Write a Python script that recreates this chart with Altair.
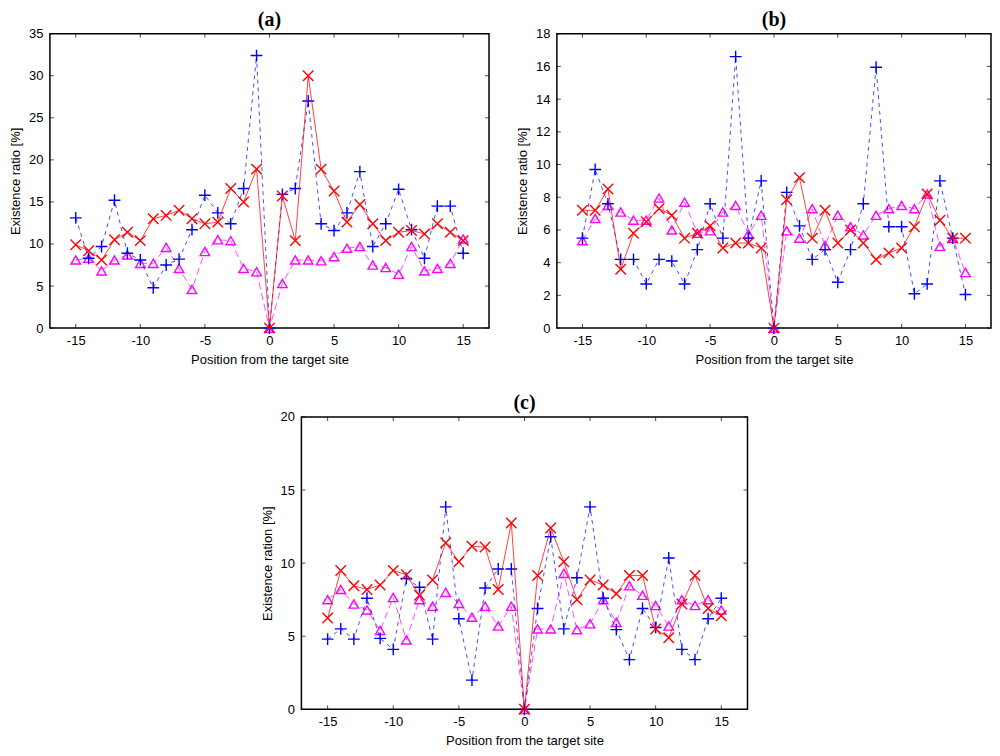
import altair as alt
import pandas as pd

positions = list(range(-15, 16))

# panel (a)
a_red = [9.9, 9.2, 8.1, 10.5, 11.4, 10.4, 13.0, 13.4, 14.0, 13.0, 12.4, 12.6, 16.6, 15.0, 18.9, 0.0,
         15.7, 10.4, 30.0, 18.9, 16.3, 12.6, 14.7, 12.4, 10.4, 11.4, 11.6, 11.2, 12.4, 11.4, 10.4]
a_blue = [13.1, 8.3, 9.7, 15.2, 8.9, 8.1, 4.8, 7.5, 8.2, 11.7, 15.8, 13.7, 12.4, 16.6, 32.4, 0.0,
          15.9, 16.6, 27.0, 12.4, 11.6, 13.7, 18.6, 9.7, 12.4, 16.5, 11.7, 8.3, 14.5, 14.5, 8.9]
a_mag = [8.1, 8.3, 6.8, 8.1, 8.7, 7.7, 7.7, 9.6, 7.1, 4.6, 9.1, 10.5, 10.4, 7.1, 6.7, 0.0,
         5.3, 8.1, 8.1, 8.0, 8.5, 9.5, 9.7, 7.5, 7.2, 6.4, 9.7, 6.8, 7.1, 7.7, 10.6]

# panel (b)
b_red = [7.2, 7.2, 8.5, 3.6, 5.8, 6.5, 7.3, 6.9, 5.5, 5.8, 6.25, 4.9, 5.2, 5.2, 4.9, 0.0,
         7.85, 9.2, 5.5, 7.2, 5.2, 6.0, 5.2, 4.2, 4.6, 4.9, 6.2, 8.2, 6.6, 5.5, 5.5]
b_blue = [5.5, 9.7, 7.6, 4.2, 4.2, 2.7, 4.2, 4.1, 2.7, 4.8, 7.6, 5.5, 16.6, 5.5, 9.0, 0.0,
          8.3, 6.25, 4.2, 4.8, 2.8, 4.8, 7.6, 15.95, 6.2, 6.2, 2.1, 2.7, 9.0, 5.5, 2.05]
b_mag = [5.35, 6.7, 7.5, 7.1, 6.6, 6.6, 7.95, 6.0, 7.7, 5.8, 5.95, 7.1, 7.5, 5.75, 6.9, 0.0,
         5.95, 5.5, 7.3, 5.05, 6.9, 6.2, 5.7, 6.9, 7.3, 7.5, 7.3, 8.2, 5.0, 5.5, 3.4]

# panel (c)
c_red = [6.25, 9.5, 8.45, 8.2, 8.5, 9.5, 9.2, 7.8, 8.85, 11.4, 10.1, 11.15, 11.1, 8.2, 12.75, 0.0,
         9.15, 12.4, 10.1, 7.5, 8.85, 8.5, 7.9, 9.15, 9.15, 5.5, 4.9, 7.2, 9.15, 6.9, 6.4]
c_blue = [4.8, 5.5, 4.8, 7.6, 4.85, 4.1, 8.95, 8.35, 4.8, 13.85, 6.2, 2.0, 8.3, 9.6, 9.6, 0.0,
          6.9, 11.8, 5.5, 9.0, 13.85, 7.6, 5.45, 3.4, 6.9, 5.6, 10.35, 4.1, 3.4, 6.2, 7.6]
c_mag = [7.5, 8.2, 7.2, 6.8, 5.4, 7.65, 4.75, 7.5, 7.05, 8.0, 7.25, 6.3, 7.05, 5.7, 7.05, 0.0,
         5.5, 5.5, 9.3, 5.45, 5.85, 7.5, 5.95, 8.45, 7.8, 7.1, 5.7, 7.5, 7.1, 7.5, 6.8]

x_ticks = [-15, -10, -5, 0, 5, 10, 15]
a_yticks = [0, 5, 10, 15, 20, 25, 30, 35]
b_yticks = [0, 2, 4, 6, 8, 10, 12, 14, 16, 18]
c_yticks = [0, 5, 10, 15, 20]

PLUS = "M-1,0L1,0M0,-1L0,1"
CROSS = "M-1,-1L1,1M-1,1L1,-1"
HYPHEN = "replace(datum.label, '\u2212', '-')"


def panel(title, ytitle, reds, blues, mags, yticks, w, h):
    df = pd.concat([
        pd.DataFrame({'pos': positions, 'val': mags, 's': 'mag'}),
        pd.DataFrame({'pos': positions, 'val': blues, 's': 'blue'}),
        pd.DataFrame({'pos': positions, 'val': reds, 's': 'red'}),
    ])
    x = alt.X('pos:Q', scale=alt.Scale(domain=[-17, 17], nice=False),
              axis=alt.Axis(values=x_ticks, title='Position from the target site', labelExpr=HYPHEN))
    y = alt.Y('val:Q', scale=alt.Scale(domain=[yticks[0], yticks[-1]], nice=False),
              axis=alt.Axis(values=yticks, title=ytitle))
    base = alt.Chart(df).encode(x=x, y=y)

    layers = []
    styles = [
        ('mag', '#ff00ff', [7, 4], 'triangle-up', 90),
        ('blue', '#0000ff', [4, 4], PLUS, 140),
        ('red', '#ff0000', None, CROSS, 110),
    ]
    for key, col, dash, shape, size in styles:
        sub = base.transform_filter(alt.datum.s == key)
        if dash:
            line = sub.mark_line(color=col, strokeWidth=1, strokeDash=dash, opacity=0.7)
        else:
            line = sub.mark_line(color=col, strokeWidth=1, opacity=0.75)
        pts = sub.mark_point(shape=shape, size=size, color=col, filled=False, strokeWidth=1.4, opacity=1)
        layers += [line, pts]

    # inward mirrored ticks, like the original gnuplot frame
    xt = pd.DataFrame({'pos': x_ticks})
    yt = pd.DataFrame({'val': yticks})
    tick_x = alt.Chart(xt).mark_tick(color='black', size=4, thickness=1, orient='vertical')
    tick_y = alt.Chart(yt).mark_tick(color='black', size=4, thickness=1, orient='horizontal')
    layers += [
        tick_x.encode(x=x, y=alt.value(h - 2)),
        tick_x.encode(x=x, y=alt.value(2)),
        tick_y.encode(y=y, x=alt.value(2)),
        tick_y.encode(y=y, x=alt.value(w - 2)),
    ]

    # panel letter above the frame
    label = alt.Chart(pd.DataFrame({'t': [title]})).mark_text(
        font='Liberation Serif', fontSize=20, fontWeight='bold', color='black',
        align='center', baseline='middle'
    ).encode(text='t:N', x=alt.value(w / 2), y=alt.value(-14))
    layers.append(label)
    return alt.layer(*layers).properties(width=w, height=h)


pa = panel('(a)', 'Existence ratio [%]', a_red, a_blue, a_mag, a_yticks, 440, 295)
pb = panel('(b)', 'Existence ratio [%]', b_red, b_blue, b_mag, b_yticks, 435, 295)
pc = panel('(c)', 'Existence ration [%]', c_red, c_blue, c_mag, c_yticks, 447, 293)

# empty spacer that pushes panel (c) towards the middle
spacer = alt.Chart(pd.DataFrame({'pos': [0]})).mark_point(opacity=0).encode(
    x=alt.X('pos:Q', axis=None), y=alt.Y('pos:Q', axis=None)
).properties(width=189, height=10, view=alt.ViewBackground(stroke='transparent'))

chart = alt.vconcat(
    alt.hconcat(pa, pb, spacing=25),
    alt.hconcat(spacer, pc, spacing=20),
    spacing=25,
    padding=0,
).configure_view(
    stroke='black', strokeWidth=1.5
).configure_axis(
    grid=False, ticks=False, domain=False,
    labelFont='Liberation Sans', labelFontSize=13, labelColor='black',
    titleFont='Liberation Sans', titleFontSize=13, titleFontWeight='normal', titleColor='black',
).configure_axisX(
    labelPadding=6, titlePadding=6
).configure_axisY(
    labelPadding=7, titlePadding=6
)

chart.save("out.html", embed_options={"renderer": "svg", "actions": False})
